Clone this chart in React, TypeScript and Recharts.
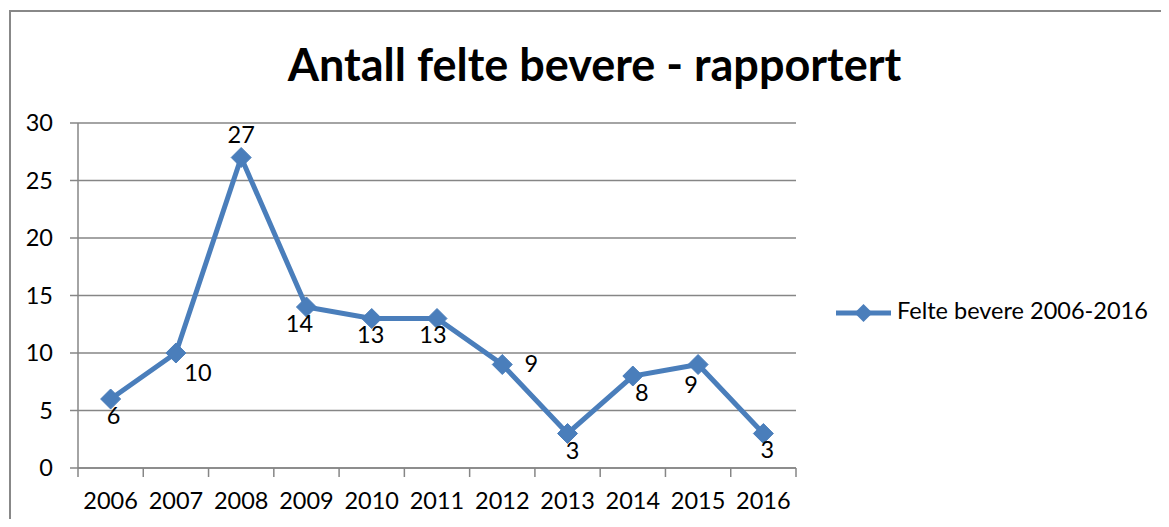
import React from "react";
import { LineChart, Line, XAxis, YAxis, CartesianGrid, LabelList } from "recharts";

const years = ["2006", "2007", "2008", "2009", "2010", "2011", "2012", "2013", "2014", "2015", "2016"];
const felled = [6, 10, 27, 14, 13, 13, 9, 3, 8, 9, 3];
const yTicks = [0, 5, 10, 15, 20, 25, 30];
const seriesName = "Felte bevere 2006-2016";
const title = "Antall felte bevere - rapportert";

// label offsets (style only) relative to each point
const labelOffsets: [number, number][] = [
  [3, 19], [22, 22], [0, -20], [-7, 19], [-1, 19], [-4, 19], [29, 2], [5, 20], [9, 19], [-7, 23], [4, 19],
];

const data = years.map((y, i) => ({ year: y, value: felled[i] }));

const W = 1169;
const H = 527;
const PLOT_LEFT = 78;
const PLOT_RIGHT = 796;
const PLOT_TOP = 123;
const PLOT_BOTTOM = 468;
const BAND = (PLOT_RIGHT - PLOT_LEFT) / years.length;
const COLOR = "#4A7EBB";
const GRID = "#868686";
const FONT = "Lato, 'Open Sans', sans-serif";
const FS = 23.5;

const Diamond = (props: any) => {
  const { cx, cy } = props;
  if (cx == null || cy == null) return null;
  const r = 10;
  return (
    <polygon
      points={`${cx},${cy - r} ${cx + r},${cy} ${cx},${cy + r} ${cx - r},${cy}`}
      fill={COLOR}
      stroke={COLOR}
      strokeWidth={1}
    />
  );
};

const XTick = (props: any) => {
  const { x, payload, index } = props;
  const last = index === years.length - 1;
  return (
    <g>
      <line x1={x - BAND / 2} x2={x - BAND / 2} y1={PLOT_BOTTOM} y2={PLOT_BOTTOM + 9} stroke={GRID} strokeWidth={1.5} />
      {last && (
        <line x1={x + BAND / 2} x2={x + BAND / 2} y1={PLOT_BOTTOM} y2={PLOT_BOTTOM + 9} stroke={GRID} strokeWidth={1.5} />
      )}
      <text x={x} y={PLOT_BOTTOM + 35} textAnchor="middle" fontSize={FS} fill="#000" fontFamily={FONT} dominantBaseline="middle">
        {payload.value}
      </text>
    </g>
  );
};

const DataLabel = (props: any) => {
  const { x, y, value, index } = props;
  const [dx, dy] = labelOffsets[index] || [0, 0];
  return (
    <text x={x + dx} y={y + dy} textAnchor="middle" dominantBaseline="middle" fontSize={FS} fill="#000" fontFamily={FONT}>
      {value}
    </text>
  );
};

export default function App() {
  return (
    <div style={{ position: "relative", width: W, height: H, margin: -8, overflow: "hidden", background: "#fff" }}>
      <div
        style={{
          position: "absolute",
          left: 9,
          top: 10,
          width: W + 20,
          height: H + 20,
          border: "2px solid #888",
          boxSizing: "border-box",
        }}
      />
      <div
        style={{
          position: "absolute",
          left: 0,
          top: 36,
          width: 1189,
          textAlign: "center",
          fontFamily: FONT,
          fontWeight: 700,
          fontSize: 45,
          lineHeight: "56px",
          color: "#000",
        }}
      >
        {title}
      </div>
      <svg style={{ position: "absolute", left: 830, top: 293, overflow: "visible" }} width={340} height={40}>
        <line x1={6} x2={61} y1={20} y2={20} stroke={COLOR} strokeWidth={5} />
        <polygon points="33.5,11 42.5,20 33.5,29 24.5,20" fill={COLOR} />
        <text x={67} y={20} dominantBaseline="middle" fontSize={FS} fill="#000" fontFamily={FONT}>
          {seriesName}
        </text>
      </svg>
      <div style={{ position: "absolute", left: 0, top: 0 }}>
        <LineChart
          width={W}
          height={H}
          data={data}
          margin={{ top: PLOT_TOP, left: PLOT_LEFT - 60, right: W - PLOT_RIGHT, bottom: H - PLOT_BOTTOM - 40 }}
        >
          <CartesianGrid vertical={false} stroke={GRID} strokeWidth={1.5} />
          <XAxis
            dataKey="year"
            scale="band"
            height={40}
            tickLine={false}
            axisLine={{ stroke: GRID, strokeWidth: 1.5 }}
            tick={<XTick />}
            interval={0}
          />
          <YAxis
            width={60}
            domain={[0, 30]}
            ticks={yTicks}
            tickSize={8}
            tickMargin={17}
            tickLine={{ stroke: GRID, strokeWidth: 1.5 }}
            axisLine={{ stroke: GRID, strokeWidth: 1.5 }}
            tick={{ fontSize: FS, fill: "#000", fontFamily: FONT }}
          />
          <Line
            type="linear"
            dataKey="value"
            name={seriesName}
            stroke={COLOR}
            strokeWidth={5}
            dot={<Diamond />}
            activeDot={false}
            isAnimationActive={false}
          >
            <LabelList dataKey="value" content={<DataLabel />} />
          </Line>
        </LineChart>
      </div>
    </div>
  );
}
